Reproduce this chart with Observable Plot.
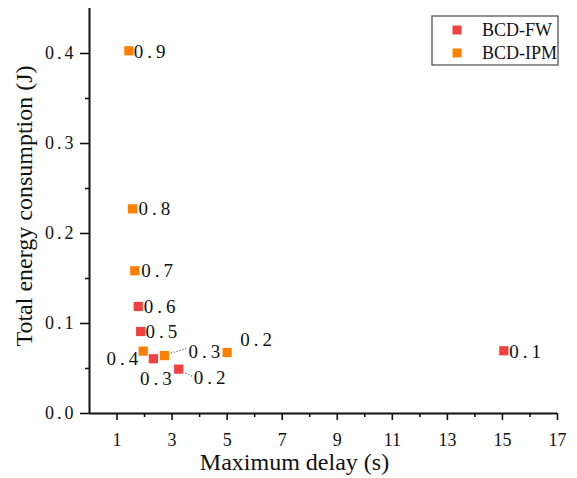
<!DOCTYPE html>
<html>
<head>
<meta charset="utf-8">
<script src="https://cdn.jsdelivr.net/npm/d3@7"></script>
<script src="https://cdn.jsdelivr.net/npm/@observablehq/plot@0.6"></script>
<style>
  html, body { margin: 0; padding: 0; background: #fff; }
  #chart svg, #chart svg text { font-family: "Liberation Serif", "Times New Roman", serif !important; }
</style>
</head>
<body>
<div id="chart"></div>
<script>
// ---- data ----
const seriesNames = ["BCD-FW", "BCD-IPM"];
const seriesColors = ["#F14040", "#FF8000"];

const fwParams = [0.1, 0.2, 0.3, 0.5, 0.6];
const fwDelay  = [15.05, 3.24, 2.32, 1.86, 1.77];
const fwEnergy = [0.0697, 0.0493, 0.0608, 0.0911, 0.1189];

const ipmParams = [0.2, 0.3, 0.4, 0.7, 0.8, 0.9];
const ipmDelay  = [5.00, 2.72, 1.95, 1.645, 1.56, 1.43];
const ipmEnergy = [0.0678, 0.0644, 0.0693, 0.1586, 0.2274, 0.403];

const xMajorTicks = [1, 3, 5, 7, 9, 11, 13, 15, 17];
const xMinorTicks = [2, 4, 6, 8, 10, 12, 14, 16];
const yMajorTicks = [0, 0.1, 0.2, 0.3, 0.4];
const yMinorTicks = [0.05, 0.15, 0.25, 0.35];

const xTitle = "Maximum delay (s)";
const yTitle = "Total energy consumption (J)";

// ---- label placement (pixel offsets, style only) ----
const labelPlacement = {
  "BCD-FW":  {0.1: [5.5, 1, "start"], 0.2: [15, 9, "start"], 0.3: [4.5, 20, "middle"], 0.5: [4.7, 0, "start"], 0.6: [5.6, 0, "start"]},
  "BCD-IPM": {0.2: [13, -13, "start"], 0.3: [24, -4, "start"], 0.4: [-1, 8, "end"], 0.7: [6.4, 0, "start"], 0.8: [6, 0, "start"], 0.9: [5, 1, "start"]}
};
const leaderPlacement = [
  {series: "BCD-IPM", p: 0.3, from: [7, -2], to: [23, -6.5]},
  {series: "BCD-FW",  p: 0.2, from: [7.5, 4.5], to: [14, 7.5]}
];

// ---- build rows ----
const fwRows = fwParams.map((p, i) => ({series: seriesNames[0], p, x: fwDelay[i], y: fwEnergy[i]}));
const ipmRows = ipmParams.map((p, i) => ({series: seriesNames[1], p, x: ipmDelay[i], y: ipmEnergy[i]}));
const allRows = [...fwRows, ...ipmRows];

const W = 577, H = 478;
const mL = 89, mR = 20, mT = 8, mB = 65;
const fmt = d => d.toFixed(1);
const FONT = '"Liberation Serif", "Times New Roman", serif';

const labelMarks = allRows.map(r => {
  const [dx, dy, anchor] = labelPlacement[r.series][r.p];
  return Plot.text([r], {
    x: "x", y: "y", text: d => fmt(d.p),
    dx, dy, textAnchor: anchor, lineAnchor: "middle",
    fontSize: 19, fontFamily: FONT, fill: "#111"
  });
});

const chart = Plot.plot({
  width: W, height: H,
  marginLeft: mL, marginRight: mR, marginTop: mT, marginBottom: mB,
  style: {fontFamily: FONT, fontSize: "18px", color: "#111", background: "#fff"},
  x: {domain: [0, 17]},
  y: {domain: [0, 0.45]},
  marks: [
    Plot.axisX({ticks: xMajorTicks, tickSize: 7, tickPadding: 13, tickFormat: d => String(d), strokeWidth: 1.6, label: null, fontSize: 18, fontFamily: FONT}),
    Plot.axisX({ticks: xMinorTicks, tickSize: 4, tickFormat: () => "", strokeWidth: 1.6, label: null}),
    Plot.axisY({ticks: yMajorTicks, tickSize: 9, tickPadding: 4, tickFormat: fmt, strokeWidth: 1.6, label: null, fontSize: 18, fontFamily: FONT}),
    Plot.axisY({ticks: yMinorTicks, tickSize: 4, tickFormat: () => "", strokeWidth: 1.6, label: null}),
    Plot.ruleY([0], {stroke: "#111", strokeWidth: 2}),
    Plot.ruleX([0], {stroke: "#111", strokeWidth: 2}),
    Plot.dot(fwRows, {x: "x", y: "y", symbol: "square", r: 5.2, fill: seriesColors[0]}),
    Plot.dot(ipmRows, {x: "x", y: "y", symbol: "square", r: 5.2, fill: seriesColors[1]}),
    ...labelMarks,
    Plot.text([xTitle], {text: d => d, frameAnchor: "bottom", textAnchor: "middle", dx: -29, dy: 56, lineAnchor: "bottom", fontSize: 24, fontFamily: FONT, fill: "#111"}),
    Plot.text([yTitle], {text: d => d, frameAnchor: "left", textAnchor: "middle", rotate: -90, dx: -58, dy: -5, lineAnchor: "bottom", fontSize: 24, fontFamily: FONT, fill: "#111"})
  ]
});

document.getElementById("chart").appendChild(chart);

// letter spacing to mimic the wide numeric glyph spacing of "0.x" labels
chart.querySelectorAll("text").forEach(t => {
  if (/^\d\.\d$/.test(t.textContent.trim())) {
    const isPointLabel = t.closest('[font-size="19"]') !== null || t.getAttribute("font-size") === "19";
    const ls = isPointLabel ? 4 : 3;
    t.setAttribute("letter-spacing", ls);
    t.style.letterSpacing = ls + "px";
  }
});

// dotted leader lines
const sx = chart.scale("x"), sy = chart.scale("y");
const svg = d3.select(chart);
const leadG = svg.append("g").attr("aria-label", "leaders");
leaderPlacement.forEach(l => {
  const row = allRows.find(r => r.series === l.series && r.p === l.p);
  const px = sx.apply(row.x), py = sy.apply(row.y);
  leadG.append("line")
    .attr("x1", px + l.from[0]).attr("y1", py + l.from[1])
    .attr("x2", px + l.to[0]).attr("y2", py + l.to[1])
    .attr("stroke", "#333").attr("stroke-width", 1.1).attr("stroke-dasharray", "1,2");
});

// legend
const lgRight = W - mR + 1, lgTop = 16, lgW = 126, lgH = 49;
const lg = svg.append("g").attr("aria-label", "legend").attr("text-anchor", "start");
lg.append("rect").attr("x", lgRight - lgW).attr("y", lgTop).attr("width", lgW).attr("height", lgH)
  .attr("fill", "#fff").attr("stroke", "#555").attr("stroke-width", 1.3);
seriesNames.forEach((name, i) => {
  const cy = lgTop + 14 + i * 23;
  lg.append("rect").attr("x", lgRight - lgW + 20.5).attr("y", cy - 4.5).attr("width", 9).attr("height", 9).attr("fill", seriesColors[i]);
  lg.append("text").attr("x", lgRight - lgW + 50).attr("y", cy).attr("dy", "0.34em")
    .attr("text-anchor", "start").attr("font-size", 18).attr("fill", "#111").text(name);
});
</script>
</body>
</html>
